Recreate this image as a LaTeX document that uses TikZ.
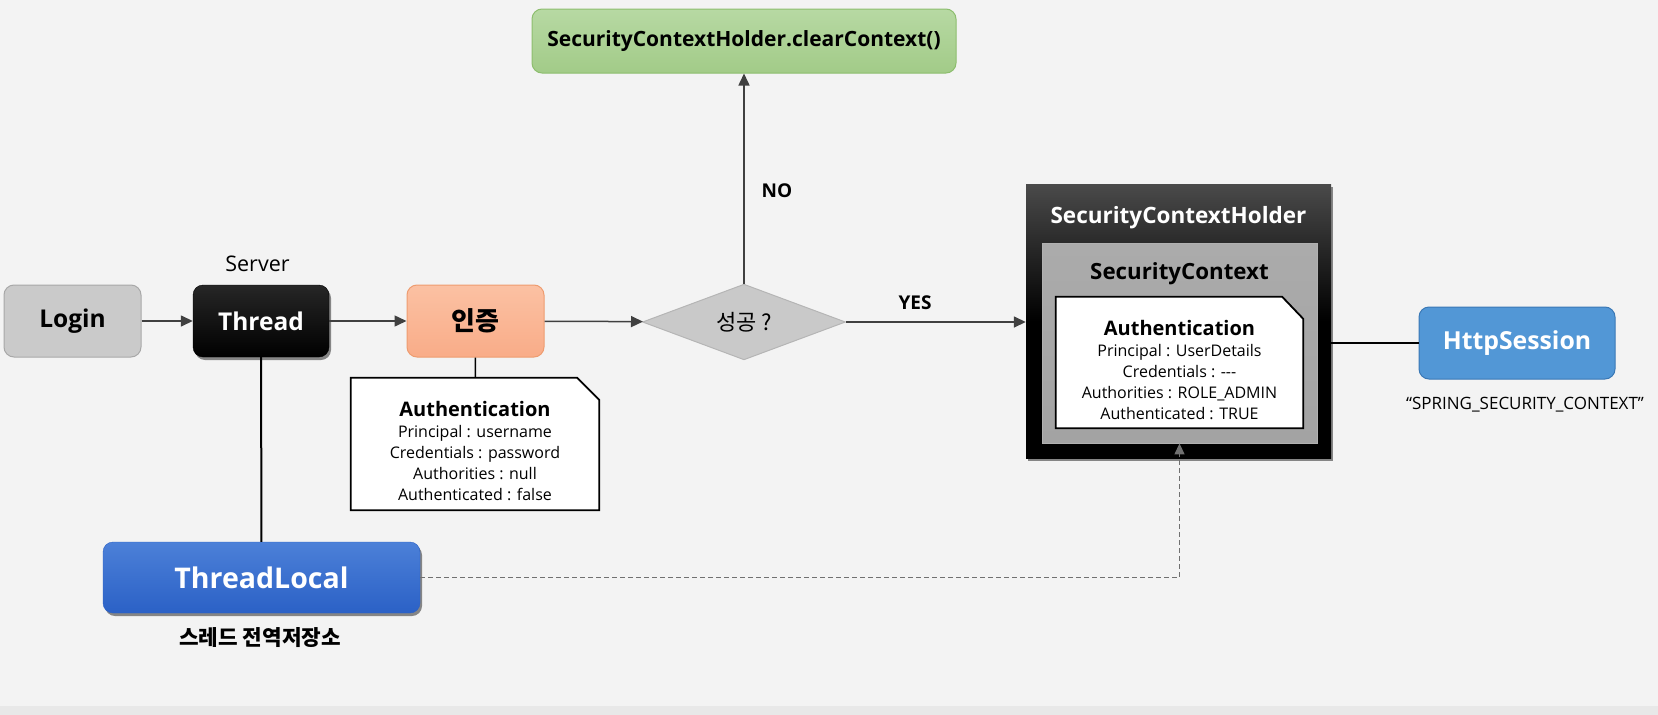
\documentclass[tikz,border=0pt]{standalone}
\usepackage{fontspec}
\setmainfont{Open Sans}
\newfontfamily\kr{Noto Sans CJK KR}
\usetikzlibrary{shadows,arrows.meta,calc,shapes.geometric}
\newcommand{\myntitle}{\bfseries\fontsize{20}{24}\selectfont}
\definecolor{bg}{HTML}{F3F3F3}
\definecolor{linegray}{HTML}{404040}
\definecolor{loginfill}{HTML}{CACACA}
\definecolor{loginedge}{HTML}{A8A8A8}
\definecolor{authfill}{HTML}{F9AC88}
\definecolor{authtop}{HTML}{FBC1A3}
\definecolor{authedge}{HTML}{EE9C70}
\definecolor{diafill}{HTML}{C9C9C9}
\definecolor{diaedge}{HTML}{B5B5B5}
\definecolor{greentop}{HTML}{B7D9A3}
\definecolor{greenbot}{HTML}{A2CB88}
\definecolor{greenedge}{HTML}{8DBE6E}
\definecolor{holdtop}{HTML}{4A4A4A}
\definecolor{innerfill}{HTML}{A3A3A3}
\definecolor{innertop}{HTML}{ABABAB}
\definecolor{httpfill}{HTML}{5297D6}
\definecolor{httpedge}{HTML}{3A78B5}
\definecolor{tltop}{HTML}{4C80D8}
\definecolor{tlbot}{HTML}{2B61C6}
\definecolor{dashgray}{HTML}{707070}
\begin{document}
\begin{tikzpicture}[x=1pt,y=-1pt,
  flowbox/.style={rounded corners=10pt, inner sep=0pt, font=\bfseries\fontsize{24.5}{29}\selectfont},
  shadowed/.style={drop shadow={shadow xshift=2pt, shadow yshift=-3pt, opacity=0.45, fill=black}},
  conn/.style={draw=linegray, line width=1.5pt},
  arr/.style={conn, -{Triangle[length=12pt,width=11pt]}},
  notebox/.style={inner sep=0pt},
  notetext/.style={align=center, inner sep=0pt, font=\fontsize{16}{21}\selectfont},
  caption/.style={inner sep=0pt},
]
\useasboundingbox (0,0) rectangle (1658,715);
\fill[bg] (0,0) rectangle (1658,715);
\fill[black!9] (0,706) rectangle (1658,715);

% main row
\node[flowbox, fill=loginfill, draw=loginedge, line width=1pt, minimum width=137pt, minimum height=72pt] (login) at (72.5,321) {Login};
\node[flowbox, shadowed, top color=black!85, bottom color=black, draw=black, text=white, minimum width=136pt, minimum height=72pt] (thread) at (261,321) {Thread};
\node[caption, font=\fontsize{21.5}{25}\selectfont] (server) at (257.5,264) {Server};
\node[flowbox, top color=authtop, bottom color=authfill, draw=authedge, line width=1pt, minimum width=137pt, minimum height=72pt, font=\kr\bfseries\fontsize{26}{31}\selectfont] (auth) at (475.5,321) {인증};
\node[diamond, fill=diafill, draw=diaedge, line width=1pt, minimum width=203pt, minimum height=66pt, inner sep=0pt, font=\kr\fontsize{22}{26}\selectfont] (dia) at (744,322) {성공 ?};
\node[flowbox, top color=greentop, bottom color=greenbot, draw=greenedge, line width=1pt, minimum width=424pt, minimum height=64pt, font=\bfseries\fontsize{21}{25}\selectfont] (green) at (744,41) {SecurityContextHolder.clearContext()};

% labels
\node[caption, font=\bfseries\fontsize{19}{22}\selectfont] (nolab) at (777,191) {NO};
\node[caption, font=\bfseries\fontsize{19}{22}\selectfont] (yeslab) at (915,303) {YES};

% holder
\node[shadowed, top color=holdtop, bottom color=black, middle color=black, minimum width=305pt, minimum height=274pt, inner sep=0pt] (holder) at (1178.5,321) {};
\node[caption, text=white, font=\bfseries\fontsize{22.5}{26}\selectfont] (holdtitle) at (1178.5,218) {SecurityContextHolder};
\node[top color=innertop, bottom color=innerfill, draw=innerfill!85!white, line width=0.8pt, minimum width=275pt, minimum height=200pt, inner sep=0pt] (inner) at (1179.5,343) {};
\node[caption, font=\bfseries\fontsize{22.3}{26}\selectfont] (innertitle) at (1179.5,274) {SecurityContext};

% note 2
\node[notebox, minimum width=247pt, minimum height=131pt] (auth2) at (1179.5,362.5) {};
\draw[fill=white, draw=black, line width=1.8pt] (auth2.north west) -- ([xshift=-21pt]auth2.north east) -- ([yshift=-22pt]auth2.north east) -- (auth2.south east) -- (auth2.south west) -- cycle;
\node[notetext] (auth2t) at (1179.5,370) {{\myntitle Authentication}\\Principal : UserDetails\\Credentials : -{}-{}-\\Authorities : ROLE\_ADMIN\\Authenticated : TRUE};

% note 1
\node[notebox, minimum width=248pt, minimum height=132pt] (auth1) at (475,444) {};
\draw[fill=white, draw=black, line width=1.8pt] (auth1.north west) -- ([xshift=-22pt]auth1.north east) -- ([yshift=-22pt]auth1.north east) -- (auth1.south east) -- (auth1.south west) -- cycle;
\node[notetext] (auth1t) at (475,451) {{\myntitle Authentication}\\Principal : username\\Credentials : password\\Authorities : null\\Authenticated : false};

% http session
\node[flowbox, fill=httpfill, draw=httpedge, line width=1pt, text=white, minimum width=196pt, minimum height=72pt, font=\bfseries\fontsize{24.8}{29}\selectfont] (http) at (1517,343) {HttpSession};
\node[caption, font=\fontsize{17}{21}\selectfont] (spring) at (1525,405) {“SPRING\_SECURITY\_CONTEXT”};

% thread local
\node[flowbox, shadowed, top color=tltop, bottom color=tlbot, draw=tlbot, text=white, minimum width=317pt, minimum height=71pt, font=\bfseries\fontsize{28.5}{33}\selectfont] (tl) at (261.5,577.5) {ThreadLocal};
\node[caption, font=\kr\bfseries\fontsize{21.3}{26}\selectfont] (tllab) at (260,638) {스레드 전역저장소};

% connectors
\draw[arr] (login) -- (thread);
\draw[arr] (thread) -- (auth);
\draw[arr] (auth) -- (dia);
\draw[arr] (dia.east) -- (dia.east -| holder.west);
\draw[arr] (dia) -- (green);
\draw[draw=black, line width=2pt] (thread) -- (tl);
\draw[conn, draw=black] (auth) -- (auth1);
\draw[conn, draw=black] (http.west) -- (http.west -| holder.east);
\draw[draw=dashgray, line width=1.3pt, dash pattern=on 5pt off 3pt, -{Triangle[length=11pt,width=10pt]}] (tl.east) -| (inner.south);
\end{tikzpicture}
\end{document}
